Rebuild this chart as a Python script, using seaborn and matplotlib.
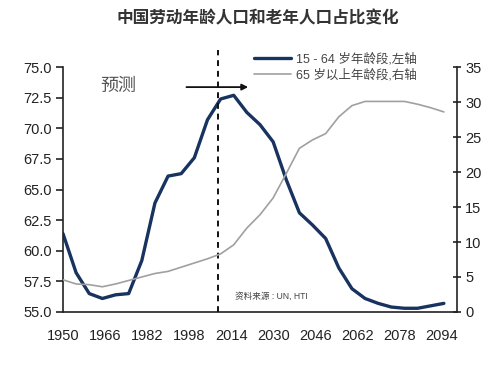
import matplotlib
matplotlib.use("Agg")
import matplotlib.pyplot as plt
import seaborn as sns
import pandas as pd
import numpy as np

years = list(range(1950, 2100, 5))
working_age = [61.4, 58.2, 56.5, 56.1, 56.4, 56.5, 59.2, 63.9, 66.1, 66.3,
               67.6, 70.7, 72.4, 72.7, 71.3, 70.3, 68.9, 65.8, 63.1, 62.1,
               61.0, 58.6, 56.9, 56.1, 55.7, 55.4, 55.3, 55.3, 55.5, 55.7]
elderly = [4.6, 4.0, 3.9, 3.6, 4.0, 4.5, 5.0, 5.5, 5.8, 6.4,
           7.0, 7.6, 8.3, 9.6, 12.0, 13.9, 16.3, 19.8, 23.4, 24.6,
           25.5, 27.9, 29.5, 30.1, 30.1, 30.1, 30.1, 29.7, 29.2, 28.6]
xticks = list(range(1950, 2100, 16))
left_ticks = [55.0, 57.5, 60.0, 62.5, 65.0, 67.5, 70.0, 72.5, 75.0]
right_ticks = [0, 5, 10, 15, 20, 25, 30, 35]
title = "中国劳动年龄人口和老年人口占比变化"
label_work = "15 - 64 岁年龄段,左轴"
label_old = "65 岁以上年龄段,右轴"
forecast_year = 2009

df = pd.DataFrame({"year": years, "work": working_age, "old": elderly})

sns.set_style("white")
plt.rcParams['font.family'] = ['Liberation Sans', 'Noto Sans CJK SC', 'DejaVu Sans']

fig = plt.figure(figsize=(5.0, 3.67), dpi=100)
ax = fig.add_axes([0.126, 0.150, 0.788, 0.667])
ax2 = ax.twinx()

sns.lineplot(data=df, x="year", y="work", ax=ax, color="#18335f", linewidth=2.4,
             label=label_work, legend=False)
sns.lineplot(data=df, x="year", y="old", ax=ax2, color="#a0a0a0", linewidth=1.2,
             label=label_old, legend=False)

ax.set_xlim(1950, 2100)
ax.set_ylim(55, 75)
ax2.set_ylim(0, 35)
ax.set_xticks(xticks)
ax.set_yticks(left_ticks)
ax.set_yticklabels([f"{v:.1f}" for v in left_ticks])
ax2.set_yticks(right_ticks)
ax2.set_yticklabels([str(v) for v in right_ticks])
ax.set_xlabel("")
ax.set_ylabel("")
ax2.set_ylabel("")

for a in (ax, ax2):
    a.spines['top'].set_visible(False)
    for s in a.spines.values():
        s.set_color("#222222")
        s.set_linewidth(1.2)
ax.spines['right'].set_visible(False)
ax2.spines['left'].set_visible(False)
ax2.spines['bottom'].set_visible(False)

ax.tick_params(axis='y', direction='out', length=5, width=1.2, labelsize=10.5,
               colors="#222222", pad=3)
ax.tick_params(axis='x', direction='inout', length=8, width=1.2, labelsize=10.5,
               colors="#222222", pad=8)
ax2.tick_params(axis='y', direction='inout', length=6, width=1.2, labelsize=10.5,
                colors="#222222", pad=3)

# forecast divider
ax.plot([forecast_year, forecast_year], [55, 76.4], color="#111111",
        linestyle=(0, (3, 2.5)), linewidth=1.4, clip_on=False, zorder=5)
ax.annotate("", xy=(2020.5, 73.37), xytext=(1997, 73.37),
            arrowprops=dict(arrowstyle="-|>", color="#111111", lw=1.3,
                            mutation_scale=9, shrinkA=0, shrinkB=0))
ax.text(1964, 73.45, "预测", fontsize=13, color="#555555", va="center", ha="left",
        family=['Noto Sans CJK SC'])
ax.text(2015.5, 56.3, "资料来源 : UN, HTI", fontsize=6.2, color="#444444",
        va="center", ha="left")

fig.text(0.516, 0.951, title, fontsize=12, fontweight="bold", color="#333333",
         ha="center", va="center", family=['Noto Sans CJK SC'])

h1, l1 = ax.get_legend_handles_labels()
h2, l2 = ax2.get_legend_handles_labels()
ax2.legend(h1 + h2, l1 + l2, loc="upper left", bbox_to_anchor=(0.49, 0.88),
           bbox_transform=fig.transFigure, frameon=False, fontsize=9,
           handlelength=3.0, handletextpad=0.4, labelspacing=0.3,
           borderpad=0.2, labelcolor="#444444")

fig.savefig("out.png", dpi=100, facecolor="white")
